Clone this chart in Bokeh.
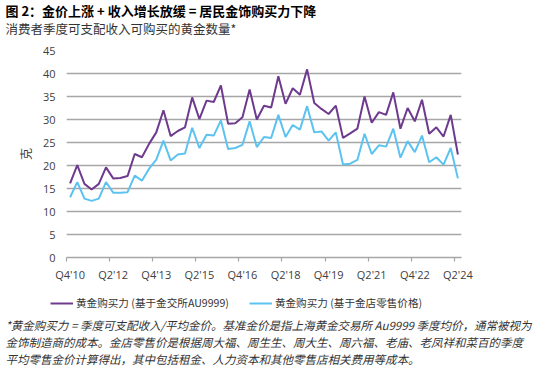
from bokeh.plotting import figure
from bokeh.models import Range1d, FixedTicker, Legend, LegendItem, ColumnDataSource, Title, Label
from bokeh.embed import file_html
from bokeh.resources import INLINE

# ---- data ----
quarters = []
for yr in range(2010, 2025):
    for q in range(1, 5):
        if (2010, 4) <= (yr, q) <= (2024, 2):
            quarters.append(f"Q{q}'{yr % 100:02d}")

sge_power = [16.1, 20.1, 16.0, 14.8, 16.0, 19.6, 17.2, 17.3, 17.7, 22.5,
             21.8, 24.7, 27.2, 32.0, 26.4, 27.5, 28.3, 34.8, 30.1, 34.1,
             33.8, 37.4, 29.1, 29.2, 30.5, 36.5, 30.0, 33.0, 32.6, 39.4,
             33.4, 36.8, 35.4, 40.9, 33.6, 32.3, 31.2, 33.0, 26.0, 27.0,
             28.0, 35.0, 29.3, 31.6, 31.0, 35.9, 28.0, 32.5, 29.6, 34.3,
             26.9, 28.3, 26.3, 31.0, 22.4]
retail_power = [13.1, 16.4, 12.8, 12.3, 12.8, 16.4, 14.1, 14.1, 14.2, 17.8,
                16.7, 19.3, 21.3, 25.4, 21.1, 22.4, 22.6, 28.2, 23.8, 26.7,
                26.5, 29.8, 23.6, 23.8, 24.5, 29.6, 24.0, 26.2, 26.0, 31.0,
                26.2, 28.8, 27.8, 32.9, 27.2, 27.4, 25.4, 27.2, 20.2, 20.4,
                21.2, 26.9, 22.5, 24.4, 24.1, 28.0, 21.7, 25.3, 22.9, 26.5,
                20.7, 21.8, 20.2, 23.8, 17.2]
tick_labels = ["Q4'10", "Q2'12", "Q4'13", "Q2'15", "Q4'16",
               "Q2'18", "Q4'19", "Q2'21", "Q4'22", "Q2'24"]
y_ticks = [0, 5, 10, 15, 20, 25, 30, 35, 40, 45]
series_names = ["黄金购买力 (基于金交所AU9999)", "黄金购买力 (基于金店零售价格)"]

title_text = "图 2：金价上涨 + 收入增长放缓 = 居民金饰购买力下降"
subtitle_text = "消费者季度可支配收入可购买的黄金数量*"
note_lines = [
    "*黄金购买力 = 季度可支配收入/平均金价。基准金价是指上海黄金交易所 Au9999 季度均价，通常被视为",
    "金饰制造商的成本。金店零售价是根据周大福、周生生、周大生、周六福、老庙、老凤祥和菜百的季度",
    "平均零售金价计算得出，其中包括租金、人力资本和其他零售店相关费用等成本。",
]

PURPLE = "#6e3a8e"
BLUE = "#5cc3f1"
GRID = "#a6a6a6"
CJK = "Noto Sans CJK SC"
NUM = "Open Sans"
W = 550
MAIN_BOTTOM = 26
LOWER_H = 88

x_idx = list(range(len(quarters)))
src = ColumnDataSource(dict(x=x_idx, q=quarters, sge=sge_power, retail=retail_power))
tick_idx = [quarters.index(t) for t in tick_labels]

# ---------------- main chart ----------------
p = figure(frame_width=395, frame_height=207,
           min_border_left=66, min_border_right=89,
           min_border_top=0, min_border_bottom=MAIN_BOTTOM,
           x_range=Range1d(-0.5, len(quarters) - 0.5), y_range=Range1d(0, 45),
           output_backend="svg", toolbar_location=None)
p.outline_line_color = None
p.background_fill_color = "white"
p.border_fill_color = "white"

r1 = p.line("x", "sge", source=src, line_color=PURPLE, line_width=2)
r2 = p.line("x", "retail", source=src, line_color=BLUE, line_width=2)

xa = p.xaxis[0]
xa.ticker = FixedTicker(ticks=tick_idx, minor_ticks=[i - 0.5 for i in tick_idx])
xa.major_label_overrides = {i: t for i, t in zip(tick_idx, tick_labels)}
xa.axis_line_color = GRID
xa.axis_line_width = 1.5
xa.major_tick_in = 0
xa.major_tick_out = 0
xa.minor_tick_in = 0
xa.minor_tick_out = 4
xa.minor_tick_line_color = GRID
xa.minor_tick_line_width = 1.2
xa.major_label_text_font = NUM
xa.major_label_text_font_size = "11px"
xa.major_label_text_color = "#404040"
xa.major_label_standoff = 5

ya = p.yaxis[0]
ya.ticker = FixedTicker(ticks=y_ticks)
ya.axis_line_color = None
ya.major_tick_line_color = None
ya.minor_tick_line_color = None
ya.major_tick_in = 0
ya.major_tick_out = 0
ya.major_label_text_font = NUM
ya.major_label_text_font_size = "11px"
ya.major_label_text_color = "#404040"
ya.major_label_standoff = 11
ya.axis_label = "克"
ya.axis_label_text_font = CJK
ya.axis_label_text_font_size = "12px"
ya.axis_label_text_font_style = "normal"
ya.axis_label_text_color = "#404040"
ya.axis_label_standoff = 6

p.xgrid.visible = False
p.ygrid.grid_line_color = GRID
p.ygrid.grid_line_width = 1.5

# spacer, subtitle and title above the plot (first added = nearest the plot)
p.add_layout(Title(text=" ", text_font_size="1px", standoff=12), "above")
p.add_layout(Title(text=subtitle_text, align="left", offset=-61, vertical_align="top",
                   text_font=CJK, text_font_size="12.5px",
                   text_font_style="normal", text_color="#333333",
                   standoff=-8), "above")
p.add_layout(Title(text=title_text, align="left", offset=-61, vertical_align="top",
                   text_font=CJK, text_font_size="13px",
                   text_font_style="bold", text_color="#000000",
                   standoff=1), "above")

# ---------------- lower strip: legend + footnote ----------------
# its own canvas; the series are drawn there too but kept outside its view,
# so only their legend samples show
q = figure(width=W, height=LOWER_H, min_border=0,
           x_range=Range1d(10 * W, 11 * W), y_range=Range1d(0, LOWER_H),
           x_axis_location=None, y_axis_location=None,
           output_backend="svg", toolbar_location=None)
q.grid.visible = False
q.outline_line_color = None
q.background_fill_color = "white"
q.border_fill_color = "white"

k1 = q.line("x", "sge", source=src, line_color=PURPLE, line_width=2)
k2 = q.line("x", "retail", source=src, line_color=BLUE, line_width=2)
legend = Legend(items=[LegendItem(label=series_names[0], renderers=[k1]),
                       LegendItem(label=series_names[1], renderers=[k2])],
                orientation="horizontal", location=(50, LOWER_H - 26),
                label_text_font=CJK, label_text_font_size="10.6px",
                label_text_color="#333333",
                glyph_width=23, glyph_height=14, label_standoff=3,
                spacing=20, padding=0, margin=0,
                border_line_color=None, background_fill_alpha=0)
q.add_layout(legend)

for line, py in zip(note_lines, [324.5, 341.5, 358]):
    q.add_layout(Label(x=5, y=372 - py, x_units="screen", y_units="screen",
                       text=line, text_font=CJK, text_font_size="11.5px",
                       text_font_style="italic", text_color="#333333",
                       text_align="left", text_baseline="middle"))

open("out.html", "w").write(file_html([p, q], INLINE))
